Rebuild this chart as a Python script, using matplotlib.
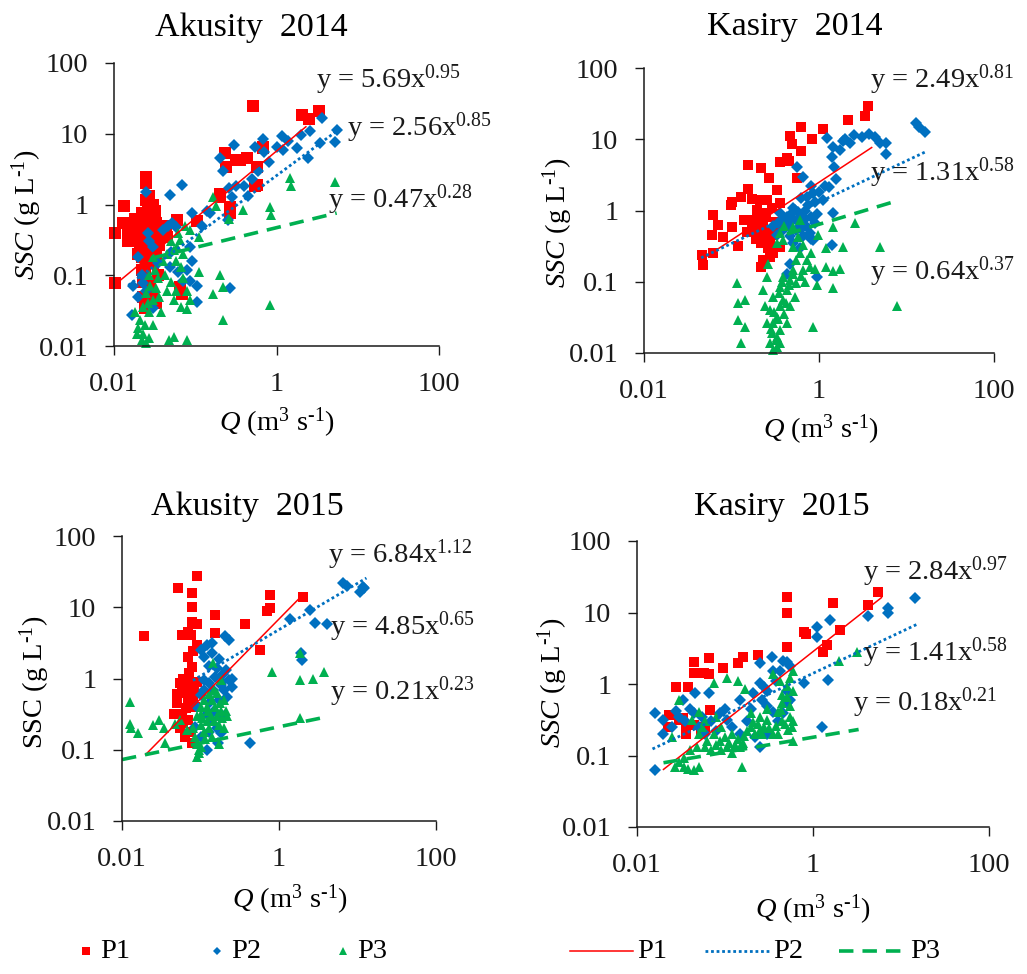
import numpy as np
import matplotlib
matplotlib.use("Agg")
import matplotlib.pyplot as plt
from matplotlib.lines import Line2D
from matplotlib.ticker import NullLocator

# ---- Akusity 2014: (Q, SSC) pairs per point, m3/s and g/L ----
ak14_p1 = np.array([
    (0.0102, 0.39), (0.0102, 0.077), (0.0132, 0.95), (0.0248, 2.47), (0.0248, 1.16),
    (0.016, 0.55), (0.018, 0.62), (0.019, 0.45), (0.020, 0.35), (0.021, 0.25),
    (0.022, 0.18), (0.022, 0.12), (0.023, 0.08), (0.023, 0.05), (0.024, 0.035),
    (0.025, 2.0), (0.026, 0.9), (0.026, 0.7), (0.027, 0.5), (0.028, 0.4),
    (0.028, 0.3), (0.029, 0.22), (0.030, 0.6), (0.031, 0.45), (0.033, 0.55),
    (0.035, 0.35), (0.036, 0.27), (0.038, 0.5), (0.040, 0.45), (0.028, 0.07),
    (0.030, 0.05), (0.033, 0.04), (0.035, 0.1), (0.025, 0.15), (0.020, 0.6),
    (0.017, 0.5), (0.015, 0.3), (0.059, 0.6), (0.105, 0.58), (0.065, 0.068),
    (0.068, 0.055), (0.013, 0.55), (0.015, 0.45), (0.018, 0.38), (0.030, 1.0),
    (0.032, 0.8), (0.022, 0.75), (0.027, 1.3), (0.020, 0.2), (0.024, 0.12),
    (0.030, 0.15), (0.033, 0.2), (0.036, 0.5), (0.044, 0.5), (0.045, 0.35),
    (0.52, 25), (2.04, 18.4), (3.3, 21), (2.5, 16), (0.2, 1.29),
    (0.27, 0.93), (0.23, 5.3), (0.24, 3.4), (0.32, 4.3), (0.43, 4.5),
    (0.57, 3.4), (0.57, 1.9), (0.69, 6.2), (0.27, 0.76), (0.36, 4.2),
    (0.55, 1.8), (0.68, 6.5), (0.2, 1.4),
])
ak14_p2 = np.array([
    (0.025, 1.5), (0.068, 1.9), (0.049, 1.35), (0.09, 0.76), (0.138, 0.8),
    (0.2, 4.5), (0.3, 6.9), (0.54, 6.6), (0.69, 8.3), (1.16, 9.2),
    (1.2, 5.9), (1.77, 6.2), (2.46, 4.5), (2.6, 10.8), (3.4, 7.3),
    (5.3, 7.7), (5.5, 11.2), (3.6, 16.6), (0.28, 1.29), (0.32, 1.8),
    (0.4, 1.8), (0.5, 2.3), (0.22, 3.0), (0.26, 1.7), (0.27, 0.065),
    (0.105, 0.042), (0.105, 0.07), (0.071, 0.083), (0.085, 0.083), (0.0165, 0.027),
    (0.026, 0.39), (0.027, 0.3), (0.02, 0.18), (0.022, 0.1), (0.023, 0.077),
    (0.017, 0.07), (0.04, 0.44), (0.046, 0.5), (0.052, 0.55), (0.058, 0.48),
    (0.05, 0.21), (0.049, 0.13), (0.08, 0.12), (0.09, 0.16), (0.062, 0.11),
    (0.085, 0.25), (0.7, 5.5), (0.8, 4.0), (1.0, 6.5), (1.4, 8.0),
    (2.0, 9.5), (0.6, 3.0), (0.45, 1.3), (0.25, 0.6), (0.15, 0.75),
    (0.12, 0.5), (0.03, 0.25), (0.035, 0.15), (0.02, 0.05), (0.025, 0.06),
    (0.03, 0.035),
])
ak14_p3 = np.array([
    (0.03, 0.18), (0.027, 0.1), (0.025, 0.056), (0.023, 0.036), (0.021, 0.023),
    (0.023, 0.015), (0.025, 0.011), (0.02, 0.018), (0.027, 0.03), (0.03, 0.045),
    (0.033, 0.065), (0.035, 0.09), (0.04, 0.16), (0.054, 0.23), (0.065, 0.32),
    (0.058, 0.16), (0.066, 0.13), (0.071, 0.09), (0.058, 0.06), (0.054, 0.045),
    (0.066, 0.036), (0.08, 0.033), (0.085, 0.045), (0.08, 0.06), (0.11, 0.35),
    (0.085, 0.44), (0.055, 0.0135), (0.08, 0.012), (0.048, 0.012), (0.11, 0.11),
    (0.2, 0.1), (0.165, 0.055), (0.22, 0.023), (0.165, 1.28), (0.18, 0.95),
    (0.26, 0.63), (0.39, 0.83), (0.83, 0.93), (0.86, 0.72), (0.83, 0.038),
    (1.47, 2.35), (1.5, 1.8), (5.3, 2.05), (0.22, 0.068), (0.018, 0.03),
    (0.019, 0.015), (0.022, 0.012), (0.024, 0.02), (0.026, 0.04), (0.028, 0.07),
    (0.032, 0.12), (0.036, 0.05), (0.038, 0.03), (0.042, 0.1), (0.045, 0.2),
    (0.05, 0.3), (0.06, 0.25), (0.07, 0.2), (0.075, 0.5), (0.062, 0.4),
    (0.045, 0.06), (0.05, 0.08), (0.027, 0.013), (0.03, 0.02),
])

# ---- Kasiry 2014 ----
ks14_p1 = np.array([
    (0.046, 0.24), (0.047, 0.17), (0.062, 0.25), (0.06, 0.46), (0.062, 0.87),
    (0.07, 0.62), (0.081, 0.43), (0.1, 0.59), (0.098, 1.2), (0.1, 1.3),
    (0.13, 1.55), (0.156, 2.0), (0.156, 4.4), (0.22, 3.9), (0.17, 1.45),
    (0.14, 0.74), (0.17, 0.55), (0.27, 2.9), (0.36, 4.8), (0.47, 11),
    (0.45, 5.0), (0.49, 8.5), (0.63, 15), (0.63, 6.8), (0.83, 10),
    (1.12, 14), (2.16, 18.6), (3.36, 21), (3.6, 29), (0.43, 5.5),
    (0.56, 2.9), (0.178, 0.74), (0.194, 0.53), (0.212, 0.41), (0.231, 0.66),
    (0.252, 0.48), (0.275, 0.35), (0.3, 0.53), (0.194, 1.02), (0.231, 0.91),
    (0.252, 1.4), (0.212, 1.4), (0.33, 1.94), (0.36, 1.26), (0.39, 0.74),
    (0.36, 0.31), (0.3, 0.25), (0.231, 0.2), (0.22, 0.16), (0.275, 0.22),
    (0.2, 0.6), (0.25, 0.8), (0.28, 0.45), (0.32, 0.7), (0.34, 0.55),
    (0.26, 0.3), (0.22, 0.35), (0.19, 0.4), (0.29, 1.1), (0.15, 0.5),
    (0.12, 0.32),
])
ks14_p2 = np.array([
    (1.22, 10.3), (1.46, 7.9), (1.74, 7.1), (2.26, 8.8), (3.07, 10.9),
    (3.7, 12), (4.37, 10.9), (4.98, 8.8), (5.9, 8.8), (5.9, 6.3),
    (13, 16.8), (14, 15), (16.3, 12.8), (1.4, 5.7), (1.5, 4.1),
    (1.55, 2.8), (1.3, 2.15), (1.17, 2.2), (0.86, 1.74), (0.66, 3.0),
    (0.56, 4.1), (0.72, 1.56), (1.46, 0.91), (1.4, 0.33), (0.94, 0.118),
    (0.47, 0.18), (0.43, 0.13), (0.36, 0.91), (0.43, 0.82), (0.51, 0.74),
    (0.6, 0.66), (0.72, 0.59), (0.78, 0.48), (0.86, 0.39), (0.55, 0.53),
    (0.66, 0.44), (0.47, 0.44), (0.39, 0.53), (0.34, 0.66), (0.53, 1.02),
    (0.69, 0.97), (0.8, 0.82), (0.9, 0.66), (0.6, 0.82), (0.43, 0.66),
    (0.49, 0.91), (0.75, 1.2), (0.9, 1.3), (1.0, 1.8), (0.62, 0.55),
    (0.45, 0.58), (0.7, 0.75), (0.58, 0.95), (0.4, 0.75), (0.95, 0.9),
    (1.1, 1.4), (0.82, 2.2), (0.62, 1.5), (0.5, 1.1), (0.3, 0.6),
    (0.33, 0.45), (0.8, 0.4), (0.5, 0.35), (2.0, 10), (2.5, 11.5),
    (1.9, 9.3), (0.6, 0.3),
])
ks14_p3 = np.array([
    (0.115, 0.095), (0.118, 0.05), (0.143, 0.055), (0.118, 0.029), (0.143, 0.023),
    (0.13, 0.0137), (0.86, 0.023), (0.94, 0.09), (1.46, 0.081), (1.2, 0.163),
    (1.46, 0.14), (1.74, 0.15), (1.9, 0.31), (1.2, 0.3), (1.46, 0.59),
    (0.98, 0.45), (2.57, 0.66), (4.98, 0.31), (7.7, 0.045), (0.51, 0.59),
    (0.3, 0.011), (0.275, 0.0137), (0.33, 0.017), (0.36, 0.021), (0.3, 0.026),
    (0.33, 0.032), (0.275, 0.04), (0.36, 0.045), (0.39, 0.055), (0.3, 0.062),
    (0.43, 0.077), (0.36, 0.085), (0.47, 0.106), (0.39, 0.118), (0.51, 0.146),
    (0.55, 0.2), (0.6, 0.25), (0.51, 0.31), (0.39, 0.39), (0.36, 0.48),
    (0.33, 0.35), (0.264, 0.18), (0.252, 0.118), (0.231, 0.077), (0.24, 0.045),
    (0.252, 0.026), (0.29, 0.019), (0.33, 0.012), (0.36, 0.0137), (0.43, 0.026),
    (0.47, 0.045), (0.53, 0.062), (0.55, 0.095), (0.66, 0.146), (0.72, 0.2),
    (0.78, 0.16), (0.6, 0.74), (0.32, 0.015), (0.28, 0.022), (0.34, 0.03),
    (0.31, 0.038), (0.4, 0.035), (0.35, 0.07), (0.42, 0.05), (0.45, 0.09),
    (0.38, 0.1), (0.5, 0.13), (0.62, 0.12), (0.7, 0.1), (0.8, 0.25),
    (0.9, 0.15), (0.65, 0.33), (0.58, 0.42), (0.4, 0.6),
])

# ---- Akusity 2015 ----
ak15_p1 = np.array([
    (0.019, 3.9), (0.052, 18.4), (0.089, 27.5), (0.078, 15.7), (0.078, 10.2),
    (0.078, 6.3), (0.089, 5.9), (0.058, 4.1), (0.075, 4.1), (0.089, 2.95),
    (0.07, 2.0), (0.078, 1.47), (0.055, 0.86), (0.07, 0.8), (0.078, 0.9),
    (0.058, 0.62), (0.07, 0.5), (0.05, 0.46), (0.058, 0.32), (0.07, 0.26),
    (0.055, 0.2), (0.063, 0.15), (0.078, 0.123), (0.153, 7.8), (0.153, 4.3),
    (0.37, 5.9), (0.77, 14.9), (0.77, 9.7), (0.7, 9.0), (0.57, 2.5),
    (2.04, 14), (0.046, 0.32), (0.065, 0.7), (0.06, 1.0), (0.072, 1.2),
    (0.08, 0.55), (0.085, 0.4), (0.066, 0.38), (0.06, 0.24), (0.075, 0.18),
    (0.07, 4.5), (0.08, 2.4), (0.082, 0.7), (0.05, 0.6), (0.09, 0.9),
])
ak15_p2 = np.array([
    (0.1, 2.5), (0.12, 3.0), (0.14, 2.3), (0.17, 1.9), (0.11, 0.95),
    (0.13, 0.86), (0.155, 1.05), (0.195, 1.15), (0.23, 0.95), (0.18, 0.8),
    (0.2, 0.68), (0.205, 3.9), (0.23, 3.5), (0.145, 0.7), (0.1, 0.58),
    (0.12, 0.32), (0.14, 0.26), (0.18, 0.17), (0.165, 0.123), (0.12, 0.1),
    (0.1, 0.15), (0.085, 0.21), (0.43, 0.123), (1.38, 6.9), (2.48, 9.1),
    (2.9, 6.0), (4.06, 5.8), (1.95, 1.82), (1.9, 2.3), (6.6, 21.6),
    (7.3, 20), (10.7, 16.6), (11.7, 19), (12, 18.5), (0.13, 1.5),
    (0.16, 1.4), (0.19, 0.9), (0.25, 1.0), (0.22, 0.55), (0.17, 0.5),
    (0.13, 0.45), (0.11, 0.7), (0.15, 0.35), (0.2, 0.3), (0.16, 0.2),
    (0.13, 0.18), (0.11, 2.0), (0.14, 3.2), (0.09, 0.4), (0.25, 0.75),
    (0.21, 1.3),
])
ak15_p3 = np.array([
    (0.0126, 0.47), (0.0126, 0.23), (0.013, 0.2), (0.016, 0.17), (0.025, 0.22),
    (0.034, 0.2), (0.035, 0.123), (0.03, 0.26), (0.047, 0.23), (0.055, 0.26),
    (0.068, 0.19), (0.089, 0.08), (0.1, 0.32), (0.12, 0.4), (0.14, 0.5),
    (0.16, 0.62), (0.18, 0.95), (0.145, 1.63), (0.81, 1.25), (1.86, 0.95),
    (1.86, 2.3), (2.7, 0.98), (3.7, 1.25), (1.86, 0.28), (0.08, 0.2),
    (0.085, 0.15), (0.09, 0.12), (0.095, 0.1), (0.1, 0.22), (0.105, 0.28),
    (0.11, 0.18), (0.115, 0.14), (0.12, 0.25), (0.125, 0.35), (0.13, 0.2),
    (0.135, 0.3), (0.14, 0.15), (0.15, 0.25), (0.155, 0.4), (0.16, 0.3),
    (0.17, 0.22), (0.175, 0.45), (0.18, 0.35), (0.19, 0.28), (0.2, 0.5),
    (0.21, 0.35), (0.22, 0.3), (0.1, 0.4), (0.09, 0.3), (0.11, 0.5),
    (0.13, 0.6), (0.15, 0.7), (0.095, 0.09), (0.1, 0.11), (0.2, 0.2),
    (0.17, 0.12),
])

# ---- Kasiry 2015 ----
ks15_p1 = np.array([
    (0.0227, 0.25), (0.023, 0.37), (0.028, 0.92), (0.038, 0.92), (0.044, 2.05),
    (0.044, 1.41), (0.057, 1.41), (0.065, 2.3), (0.065, 1.4), (0.068, 0.43),
    (0.06, 0.25), (0.036, 0.2), (0.033, 0.33), (0.096, 1.66), (0.14, 1.94),
    (0.16, 2.4), (0.24, 2.54), (0.5, 16.6), (0.5, 9.7), (0.5, 3.3),
    (0.78, 5.4), (0.84, 5.0), (1.43, 3.5), (1.3, 2.8), (1.7, 13.4),
    (2.03, 5.7), (4.26, 12.7), (5.5, 19.6), (0.03, 0.31), (0.036, 0.25),
    (0.044, 0.27), (0.053, 0.2),
])
ks15_p2 = np.array([
    (0.016, 0.39), (0.016, 0.063), (0.02, 0.31), (0.0336, 0.6), (0.0457, 0.74),
    (0.065, 0.76), (0.044, 0.39), (0.088, 0.39), (0.105, 0.31), (0.148, 0.6),
    (0.21, 0.74), (0.25, 1.94), (0.25, 1.02), (0.3, 0.8), (0.34, 2.4),
    (0.35, 1.5), (0.46, 2.1), (0.5, 2.0), (0.5, 0.8), (0.55, 0.6),
    (0.46, 0.39), (0.4, 0.3), (0.25, 0.133), (0.3, 0.2), (0.78, 1.02),
    (1.1, 4.6), (1.1, 6.3), (1.56, 7.9), (1.5, 1.15), (1.26, 0.25),
    (4.26, 8.8), (7.2, 11.4), (7.2, 10), (14.4, 15.8), (0.025, 0.25),
    (0.03, 0.35), (0.035, 0.3), (0.04, 0.45), (0.05, 0.25), (0.055, 0.35),
    (0.06, 0.2), (0.07, 0.3), (0.08, 0.22), (0.1, 0.45), (0.12, 0.25),
    (0.2, 0.45), (0.3, 0.5), (0.18, 0.3), (0.22, 0.18), (0.02, 0.2),
    (0.028, 0.42), (0.5, 0.55), (0.55, 1.8), (0.42, 1.5), (0.35, 0.4),
    (0.26, 0.6), (0.28, 0.9), (0.38, 1.1), (0.15, 0.2),
])
ks15_p3 = np.array([
    (0.027, 0.07), (0.034, 0.07), (0.044, 0.063), (0.05, 0.07), (0.034, 0.091),
    (0.025, 0.18), (0.03, 0.6), (0.042, 0.31), (0.048, 0.133), (0.075, 1.02),
    (0.105, 1.2), (0.14, 1.1), (0.17, 0.85), (0.155, 0.07), (0.12, 0.11),
    (0.105, 0.133), (0.088, 0.16), (0.075, 0.2), (0.063, 0.16), (0.2, 0.39),
    (0.21, 0.29), (0.25, 0.23), (0.3, 0.31), (0.35, 0.2), (0.43, 0.43),
    (0.5, 0.65), (0.42, 1.1), (0.35, 1.4), (0.6, 1.5), (0.52, 0.23),
    (0.6, 0.16), (0.165, 0.19), (1.95, 2.1), (3.14, 2.8), (0.03, 0.08),
    (0.038, 0.065), (0.04, 0.12), (0.05, 0.2), (0.055, 0.25), (0.06, 0.13),
    (0.07, 0.12), (0.08, 0.14), (0.09, 0.12), (0.1, 0.18), (0.11, 0.15),
    (0.12, 0.2), (0.13, 0.14), (0.14, 0.17), (0.15, 0.13), (0.16, 0.15),
    (0.18, 0.22), (0.2, 0.25), (0.22, 0.2), (0.24, 0.28), (0.26, 0.2),
    (0.28, 0.25), (0.32, 0.24), (0.38, 0.26), (0.4, 0.2), (0.45, 0.3),
    (0.48, 0.28), (0.55, 0.35), (0.58, 0.25), (0.6, 0.3), (0.55, 0.5),
    (0.45, 0.55), (0.4, 0.4), (0.3, 0.45), (0.25, 0.35), (0.09, 0.25),
    (0.06, 0.3), (0.05, 0.4), (0.08, 0.35), (0.6, 0.8), (0.5, 0.95),
    (0.55, 1.2), (0.45, 0.7),
])

# power-law fits SSC = a * Q**b for P1, P2, P3, and the Q span each trend line covers
ak14_fit = [(5.69, 0.95), (2.56, 0.85), (0.47, 0.28)]
ks14_fit = [(2.49, 0.81), (1.31, 0.58), (0.64, 0.37)]
ak15_fit = [(6.84, 1.12), (4.85, 0.65), (0.21, 0.23)]
ks15_fit = [(2.84, 0.97), (1.41, 0.58), (0.18, 0.21)]
ak14_span = [(0.01, 2.3), (0.015, 5.5), (0.03, 5.5)]
ks14_span = [(0.045, 4.0), (0.045, 17.0), (0.43, 7.8)]
ak15_span = [(0.02, 2.0), (0.08, 13.0), (0.01, 4.0)]
ks15_span = [(0.02, 6.0), (0.015, 15.0), (0.02, 3.3)]

plt.rcParams["font.family"] = "Liberation Serif"
plt.rcParams["mathtext.fontset"] = "custom"
plt.rcParams["mathtext.rm"] = "Liberation Serif"
plt.rcParams["mathtext.it"] = "Liberation Serif:italic"

RED, BLUE, GREEN = "#FF0000", "#0070C0", "#00B050"
W, H = 1027, 974
FS = 20.5
HY = "\u2010"  # plain hyphen for the unit exponents

fig = plt.figure(figsize=(W / 100, H / 100), dpi=100)


def px_box(left, top, right, bottom):
    return [left / W, 1 - bottom / H, (right - left) / W, (bottom - top) / H]


def fx(x):
    return x / W


def fy(y):
    return 1 - y / H


panels = [
    dict(title="Akusity  2014", data=(ak14_p1, ak14_p2, ak14_p3), fit=ak14_fit,
         span=ak14_span, box=(114, 63, 439, 346), sq=8.5, title_xy=(251, 28),
         ylab_xy=(27, 215), xlab_xy=(277, 423), italic=True,
         eq_pos=[(0.62, 0.94), (0.717, 0.77), (0.658, 0.516)]),
    dict(title="Kasiry  2014", data=(ks14_p1, ks14_p2, ks14_p3), fit=ks14_fit,
         span=ks14_span, box=(644, 68, 994, 353), sq=7.0, title_xy=(795, 27),
         ylab_xy=(558, 223), xlab_xy=(821, 430), italic=True,
         eq_pos=[(0.646, 0.958), (0.646, 0.632), (0.646, 0.284)]),
    dict(title="Akusity  2015", data=(ak15_p1, ak15_p2, ak15_p3), fit=ak15_fit,
         span=ak15_span, box=(122, 536, 436, 821), sq=6.8, title_xy=(247, 507),
         ylab_xy=(35, 682), xlab_xy=(290, 900), italic=False,
         eq_pos=[(0.656, 0.933), (0.662, 0.681), (0.662, 0.453)]),
    dict(title="Kasiry  2015", data=(ks15_p1, ks15_p2, ks15_p3), fit=ks15_fit,
         span=ks15_span, box=(637, 541, 989, 827), sq=6.8, title_xy=(782, 507),
         ylab_xy=(553, 683), xlab_xy=(813, 910), italic=True,
         eq_pos=[(0.642, 0.892), (0.642, 0.608), (0.614, 0.434)]),
]

markers = [("s", RED), ("D", BLUE), ("^", GREEN)]
line_styles = [
    dict(color=RED, lw=1.1, ls="-"),
    dict(color=BLUE, lw=2.0, ls=(0, (1, 1))),
    dict(color=GREEN, lw=2.6, ls=(0, (4, 2.5))),
]

for p in panels:
    ax = fig.add_axes(px_box(*p["box"]))
    ax.set_xscale("log")
    ax.set_yscale("log")
    ax.set_xlim(0.01, 100)
    ax.set_ylim(0.01, 100)

    sizes = [p["sq"], 6.0, 7.0]
    for pts, (mk, col), ms in zip(p["data"], markers, sizes):
        ax.plot(pts[:, 0], pts[:, 1], ls="none", marker=mk, ms=ms, color=col,
                mec=col, mew=0, clip_on=False)

    for (a, b), (q0, q1), st in zip(p["fit"], p["span"], line_styles):
        q = np.geomspace(q0, q1, 60)
        ax.plot(q, a * q ** b, **st)

    for (a, b), (tx, ty) in zip(p["fit"], p["eq_pos"]):
        ax.text(tx, ty, f"y = {a:.2f}x$^{{\\mathrm{{{b:.2f}}}}}$", transform=ax.transAxes,
                fontsize=FS, ha="left", va="center", color="#1a1a1a")

    ax.set_xticks([0.01, 1, 100])
    ax.set_xticklabels(["0.01", "1", "100"])
    ax.set_yticks([0.01, 0.1, 1, 10, 100])
    ax.set_yticklabels(["0.01", "0.1", "1", "10", "100"])
    ax.xaxis.set_minor_locator(NullLocator())
    ax.yaxis.set_minor_locator(NullLocator())
    ax.tick_params(direction="out", length=6.5, width=1.0, labelsize=FS, pad=12,
                   colors="#1a1a1a")
    for side in ("top", "right"):
        ax.spines[side].set_visible(False)
    for side in ("left", "bottom"):
        ax.spines[side].set_linewidth(1.1)
        ax.spines[side].set_color("#1a1a1a")

    tx, ty = p["title_xy"]
    fig.text(fx(tx), fy(ty), p["title"], fontsize=24.5, ha="center", va="center")
    ssc = r"$SSC$" if p["italic"] else "SSC"
    lx, ly = p["ylab_xy"]
    fig.text(fx(lx), fy(ly), ssc + " (g L$^{\\mathrm{" + HY + "1}}$)", fontsize=FS,
             rotation=90, ha="center", va="center")
    qx, qy = p["xlab_xy"]
    fig.text(fx(qx), fy(qy), "$Q$ (m$^{\\mathrm{3}}$ s$^{\\mathrm{" + HY + "1}}$)",
             fontsize=FS, ha="center", va="center")

# shared key along the bottom: point symbols on the left, trend lines on the right
key_y = fy(951)
for (mk, col), ms, x_mark, label in zip(markers, [5.5, 4.5, 5.5], [86, 217, 343],
                                         ["P1", "P2", "P3"]):
    fig.add_artist(Line2D([fx(x_mark)], [key_y], marker=mk, ms=ms, color=col,
                          mew=0, ls="none", transform=fig.transFigure))
    fig.text(fx(x_mark + 14), key_y, label, fontsize=FS, ha="left", va="center")

for st, (x0, x1), label in zip(line_styles, [(570, 633), (705, 769), (839, 906)],
                               ["P1", "P2", "P3"]):
    fig.add_artist(Line2D([fx(x0), fx(x1)], [key_y, key_y], transform=fig.transFigure,
                          **st))
    fig.text(fx(x1 + 4), key_y, label, fontsize=FS, ha="left", va="center")

fig.savefig("out.png", dpi=100)
